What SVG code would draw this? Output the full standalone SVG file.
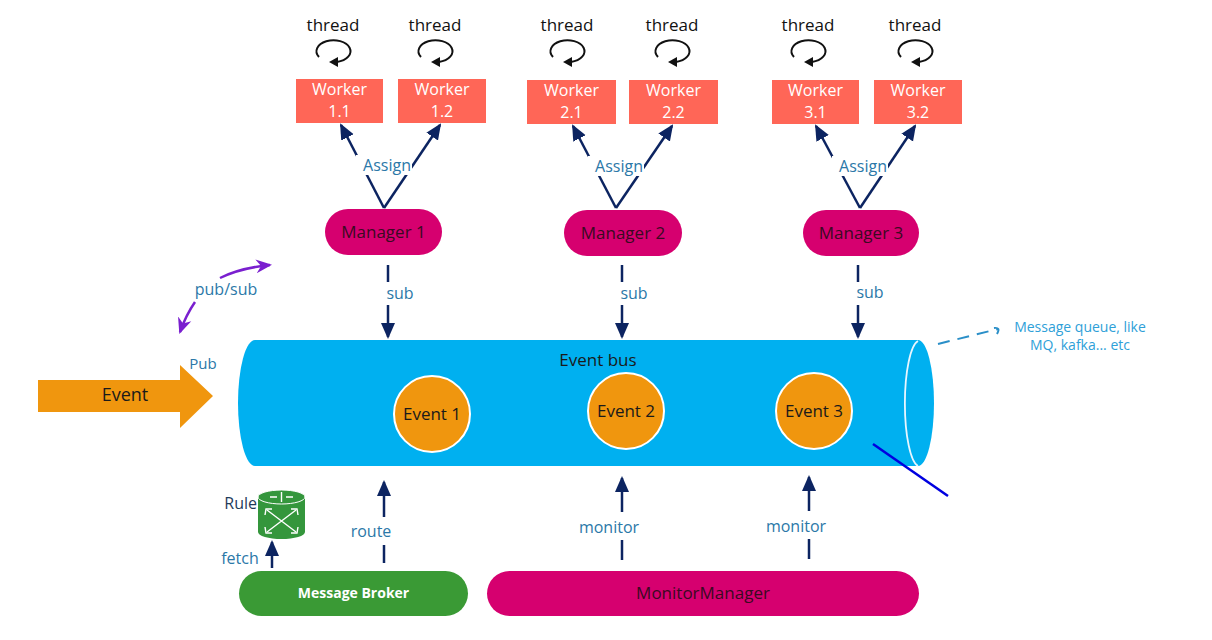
<svg xmlns="http://www.w3.org/2000/svg" width="1212" height="640" viewBox="0 0 1212 640">
<style>
text{font-family:"Open Sans","Noto Sans","DejaVu Sans",sans-serif;}
.thr{font-size:17px;fill:#111;text-anchor:middle;}
.wk{fill:#ff6657;}
.wt{font-size:16px;fill:#fff;text-anchor:middle;}
.mg{fill:#d6006f;}
.mt{font-size:17px;fill:#3a0a22;text-anchor:middle;}
.lbl{font-size:16px;fill:#2b78a8;text-anchor:middle;}
.ln{stroke:#0c2461;stroke-width:2.5;fill:none;}
.ev{fill:#f0960e;stroke:#fff;stroke-width:2;}
.et{font-size:17px;fill:#1a1a1a;text-anchor:middle;}
</style>
<defs>
<marker id="ah" markerUnits="userSpaceOnUse" markerWidth="16" markerHeight="16" viewBox="0 0 16 16" refX="14" refY="8" orient="auto">
<path d="M0,1 L16,8 L0,15 Z" fill="#0c2461"/>
</marker>
<marker id="pa" markerUnits="userSpaceOnUse" markerWidth="16" markerHeight="16" viewBox="0 0 16 16" refX="14" refY="8" orient="auto">
<path d="M0,1 L16,8 L0,15 L5,8 Z" fill="#7a1fcf"/>
</marker>
<g id="loop">
<path d="M-15,5 A17,11 0 1 1 3,10" fill="none" stroke="#111" stroke-width="2"/>
<polygon points="-5,10 4,5 4,15" fill="#111"/>
</g>
</defs>

<g id="threads">
<text class="thr" x="333" y="31">thread</text>
<text class="thr" x="435" y="31">thread</text>
<text class="thr" x="567" y="31">thread</text>
<text class="thr" x="672" y="31">thread</text>
<text class="thr" x="808" y="31">thread</text>
<text class="thr" x="915" y="31">thread</text>
<use href="#loop" x="334" y="52"/>
<use href="#loop" x="436" y="52"/>
<use href="#loop" x="568" y="52"/>
<use href="#loop" x="673" y="52"/>
<use href="#loop" x="809" y="52"/>
<use href="#loop" x="916" y="52"/>
</g>

<g id="worker-1-1"><rect class="wk" x="296" y="79" width="87" height="44"/><text class="wt" x="339.5" y="95">Worker</text><text class="wt" x="339.5" y="117">1.1</text></g>
<g id="worker-1-2"><rect class="wk" x="398" y="79" width="88" height="44"/><text class="wt" x="442" y="95">Worker</text><text class="wt" x="442" y="117">1.2</text></g>
<g id="worker-2-1"><rect class="wk" x="527" y="80" width="89" height="44"/><text class="wt" x="571.5" y="96">Worker</text><text class="wt" x="571.5" y="118">2.1</text></g>
<g id="worker-2-2"><rect class="wk" x="629" y="80" width="89" height="44"/><text class="wt" x="673.5" y="96">Worker</text><text class="wt" x="673.5" y="118">2.2</text></g>
<g id="worker-3-1"><rect class="wk" x="772" y="80" width="87" height="44"/><text class="wt" x="815.5" y="96">Worker</text><text class="wt" x="815.5" y="118">3.1</text></g>
<g id="worker-3-2"><rect class="wk" x="874" y="80" width="88" height="44"/><text class="wt" x="918" y="96">Worker</text><text class="wt" x="918" y="118">3.2</text></g>

<g id="manager-1"><rect class="mg" x="325" y="209" width="117" height="46" rx="23"/><text class="mt" x="383.5" y="238">Manager 1</text></g>
<g id="manager-2"><rect class="mg" x="564" y="210" width="118" height="46" rx="23"/><text class="mt" x="623" y="239">Manager 2</text></g>
<g id="manager-3"><rect class="mg" x="803" y="210" width="116" height="46" rx="23"/><text class="mt" x="861" y="239">Manager 3</text></g>

<g id="event-bus">
<path d="M255,340 L918,340 A16,63 0 0 1 918,466 L255,466 A17,63 0 0 1 255,340 Z" fill="#00b0f0"/>
<path d="M918,341 A15,63 0 0 0 918,466" fill="none" stroke="#e8f6ff" stroke-width="1.8"/>
<text x="598" y="366" font-size="17" fill="#1a1a1a" text-anchor="middle">Event bus</text>
</g>
<g id="event-1"><circle class="ev" cx="432" cy="414" r="38"/><text class="et" x="432" y="420">Event 1</text></g>
<g id="event-2"><circle class="ev" cx="626" cy="411" r="38"/><text class="et" x="626" y="417">Event 2</text></g>
<g id="event-3"><circle class="ev" cx="814" cy="411" r="38"/><text class="et" x="814" y="417">Event 3</text></g>

<g id="event-input">
<polygon points="38,380 180,380 180,365 213,396 180,428 180,412 38,412" fill="#f0960e"/>
<text x="125" y="401" font-size="18" fill="#1a1a1a" text-anchor="middle">Event</text>
</g>

<g id="rule">
<path d="M258,497 L258,532 A23.5,7 0 0 0 305,532 L305,497 Z" fill="#34963c"/>
<ellipse cx="281.5" cy="497" rx="23.5" ry="7" fill="#34963c" stroke="#fff" stroke-width="1"/>
<g stroke="#fff" stroke-width="1.4" fill="none">
<path d="M267,510 L296,532 M296,510 L267,532"/>
<path d="M265,515 L266,509 L272,509 M298,515 L297,509 L291,509 M265,527 L266,533 L272,533 M298,527 L297,533 L291,533"/>
<path d="M270,497 L277,497 M286,497 L293,497 M281.5,492 L281.5,502"/>
</g>
<text x="257" y="509" font-size="16" fill="#1f3b5a" text-anchor="end">Rule</text>
</g>

<g id="message-broker"><rect x="239" y="571" width="229" height="45" rx="22.5" fill="#3a9a35"/><text x="353.5" y="598" font-size="14" font-weight="bold" fill="#fff" text-anchor="middle">Message Broker</text></g>
<g id="monitor-manager"><rect x="487" y="571" width="432" height="45" rx="22.5" fill="#d6006f"/><text x="703" y="599" font-size="17" fill="#3a0a22" text-anchor="middle">MonitorManager</text></g>

<g id="connectors">
<path class="ln" d="M384,208 L341,125" marker-end="url(#ah)"/>
<path class="ln" d="M384,208 L440,125" marker-end="url(#ah)"/>
<path class="ln" d="M616,208 L573,126" marker-end="url(#ah)"/>
<path class="ln" d="M616,208 L672,126" marker-end="url(#ah)"/>
<path class="ln" d="M860,208 L816,126" marker-end="url(#ah)"/>
<path class="ln" d="M860,208 L915,126" marker-end="url(#ah)"/>
<rect x="356" y="155" width="56" height="20" fill="#fff"/>
<rect x="588" y="156" width="56" height="20" fill="#fff"/>
<rect x="832" y="156" width="56" height="20" fill="#fff"/>
<text class="lbl" x="387" y="171">Assign</text>
<text class="lbl" x="619" y="172">Assign</text>
<text class="lbl" x="863" y="172">Assign</text>

<path class="ln" d="M388,265 L388,282"/><path class="ln" d="M388,305 L388,337" marker-end="url(#ah)"/>
<text class="lbl" x="400" y="299">sub</text>
<path class="ln" d="M622,265 L622,282"/><path class="ln" d="M622,305 L622,337" marker-end="url(#ah)"/>
<text class="lbl" x="634" y="299">sub</text>
<path class="ln" d="M858,265 L858,282"/><path class="ln" d="M858,305 L858,337" marker-end="url(#ah)"/>
<text class="lbl" x="870" y="298">sub</text>

<path class="ln" d="M384,563 L384,545"/><path class="ln" d="M384,517 L384,482" marker-end="url(#ah)"/>
<text class="lbl" x="371" y="537">route</text>
<path class="ln" d="M622,560 L622,540"/><path class="ln" d="M622,512 L622,478" marker-end="url(#ah)"/>
<text class="lbl" x="609" y="533">monitor</text>
<path class="ln" d="M809,559 L809,539"/><path class="ln" d="M809,511 L809,477" marker-end="url(#ah)"/>
<text class="lbl" x="796" y="532">monitor</text>
<path class="ln" d="M272,568 L272,542" marker-end="url(#ah)"/>
<text class="lbl" x="240" y="564">fetch</text>

<path d="M220,278 Q240,268 270,265" fill="none" stroke="#7a1fcf" stroke-width="2.5" marker-end="url(#pa)"/>
<path d="M195,302 Q186,315 180,332" fill="none" stroke="#7a1fcf" stroke-width="2.5" marker-end="url(#pa)"/>
<text class="lbl" x="226" y="295">pub/sub</text>
<text x="203" y="369" font-size="15" fill="#2b78a8" text-anchor="middle">Pub</text>

<path d="M938,344 L998,329" fill="none" stroke="#2a8fc8" stroke-width="2" stroke-dasharray="12,8"/>
<path d="M994,328 Q1001,327 997,334" fill="none" stroke="#2a8fc8" stroke-width="2"/>
<path d="M873,444 L948,496" stroke="#0000e0" stroke-width="2.5"/>
</g>
<g id="mq-note">
<text x="1080" y="332" font-size="14" fill="#2ea0d8" text-anchor="middle">Message queue, like</text>
<text x="1080" y="350" font-size="14" fill="#2ea0d8" text-anchor="middle">MQ, kafka... etc</text>
</g>
</svg>
